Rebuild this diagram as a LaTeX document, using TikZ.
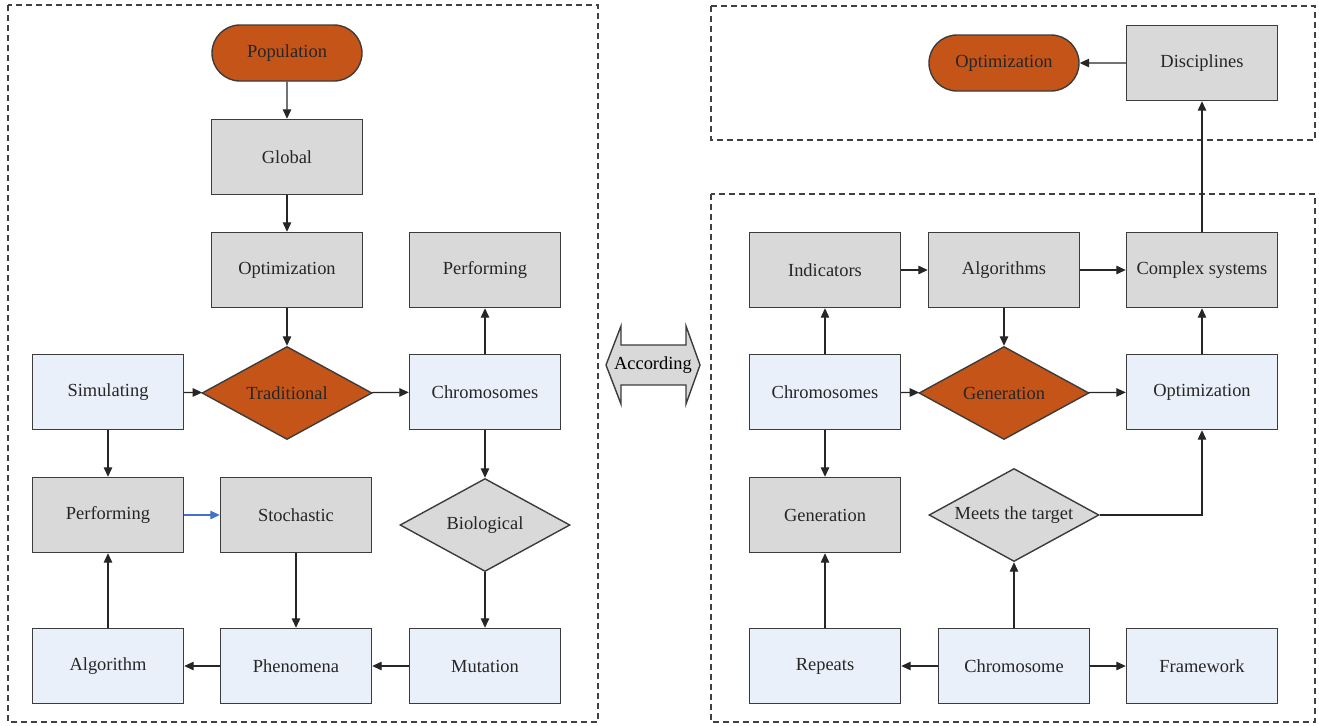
\documentclass[tikz,border=0pt]{standalone}
\usepackage{fontspec}
\setmainfont{Liberation Serif}
\usetikzlibrary{shapes.geometric,shapes.misc,arrows.meta}
\definecolor{rust}{RGB}{197,84,24}
\definecolor{boxgray}{RGB}{217,217,217}
\definecolor{paleblue}{RGB}{233,240,250}
\definecolor{edgegray}{RGB}{60,60,60}
\definecolor{linkblue}{RGB}{68,114,196}
\begin{document}
\begin{tikzpicture}[x=0.2mm,y=-0.2mm,
    font=\fontsize{10.5}{12}\selectfont,
    base/.style={draw=edgegray,line width=0.8pt,text=black!85,inner sep=0pt},
    graybox/.style={base,fill=boxgray,minimum width=30.2mm,minimum height=15mm},
    bluebox/.style={base,fill=paleblue,minimum width=30.2mm,minimum height=15mm},
    terminal/.style={base,fill=rust,rounded rectangle,minimum width=30mm,minimum height=11.2mm},
    decision/.style={base,diamond,aspect=1.83,minimum width=34mm,minimum height=18.6mm},
    frame/.style={draw=black!75,dash pattern=on 1.2mm off 0.8mm,line width=0.6pt},
    link/.style={-{Triangle[length=1.9mm,width=1.7mm]},line width=0.7pt,draw=black!85}]
  \useasboundingbox (0,0) rectangle (1319,725);
  % dashed groups
  \draw[frame] (8,5) rectangle (598,722);
  \draw[frame] (711,6) rectangle (1315,140);
  \draw[frame] (711,194) rectangle (1315,722);

  % left flow
  \node[terminal] (pop) at (287,53) {Population};
  \node[graybox] (glob) at (287,157) {Global};
  \node[graybox] (optl) at (287,270) {Optimization};
  \node[graybox] (perft) at (485,270) {Performing};
  \node[bluebox] (sim) at (108,392) {Simulating};
  \node[decision,fill=rust] (trad) at (287,393) {Traditional};
  \node[bluebox] (chrl) at (485,392) {Chromosomes};
  \node[graybox] (perfl) at (108,515) {Performing};
  \node[graybox] (stoch) at (296,515) {Stochastic};
  \node[decision,fill=boxgray] (bio) at (485,525) {Biological};
  \node[bluebox] (alg) at (108,666) {Algorithm};
  \node[bluebox] (phen) at (296,666) {Phenomena};
  \node[bluebox] (mut) at (485,666) {Mutation};

  \draw[link] (pop) -- (glob);
  \draw[link] (glob) -- (optl);
  \draw[link] (optl) -- (trad);
  \draw[link] (sim) -- (trad);
  \draw[link] (trad) -- (chrl);
  \draw[link] (chrl) -- (perft);
  \draw[link] (chrl) -- (bio);
  \draw[link] (bio) -- (mut);
  \draw[link] (sim) -- (perfl);
  \draw[link,draw=linkblue,-{Triangle[length=1.9mm,width=1.7mm,fill=linkblue]}] (perfl) -- (stoch);
  \draw[link] (stoch) -- (phen);
  \draw[link] (mut) -- (phen);
  \draw[link] (phen) -- (alg);
  \draw[link] (alg) -- (perfl);

  % two-way arrow between the groups
  \draw[base,fill=boxgray] (606,365) -- (621,326) -- (621,345) -- (686,345) -- (686,326)
    -- (700,365) -- (686,404) -- (686,385) -- (621,385) -- (621,404) -- cycle;
  \node (acc) at (653,365) {According};

  % right flow
  \node[terminal] (optr) at (1004,63) {Optimization};
  \node[graybox] (disc) at (1202,63) {Disciplines};
  \node[graybox] (ind) at (825,270) {Indicators};
  \node[graybox] (algs) at (1004,270) {Algorithms};
  \node[graybox] (cplx) at (1202,270) {Complex systems};
  \node[bluebox] (chrr) at (825,392) {Chromosomes};
  \node[decision,fill=rust] (gend) at (1004,393) {Generation};
  \node[bluebox] (optb) at (1202,392) {Optimization};
  \node[graybox] (genb) at (825,515) {Generation};
  \node[decision,fill=boxgray] (meet) at (1014,515) {Meets the target};
  \node[bluebox] (rep) at (825,666) {Repeats};
  \node[bluebox] (chrm) at (1014,666) {Chromosome};
  \node[bluebox] (frm) at (1202,666) {Framework};

  \draw[link] (disc) -- (optr);
  \draw[link] (cplx) -- (disc);
  \draw[link] (ind) -- (algs);
  \draw[link] (algs) -- (cplx);
  \draw[link] (algs) -- (gend);
  \draw[link] (chrr) -- (ind);
  \draw[link] (chrr) -- (gend);
  \draw[link] (gend) -- (optb);
  \draw[link] (optb) -- (cplx);
  \draw[link] (chrr) -- (genb);
  \draw[link] (rep) -- (genb);
  \draw[link] (chrm) -- (rep);
  \draw[link] (chrm) -- (frm);
  \draw[link] (chrm) -- (meet);
  \draw[link] (meet) -| (optb);
\end{tikzpicture}
\end{document}
